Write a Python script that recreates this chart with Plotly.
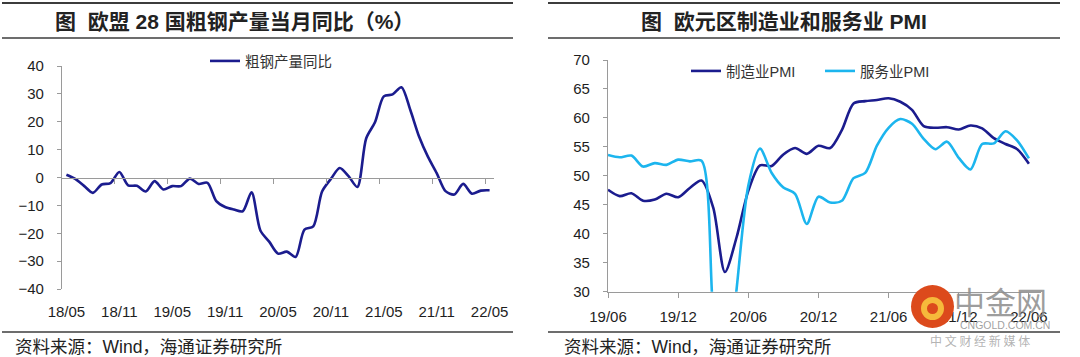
import plotly.graph_objects as go

# ---------------- data ----------------
steel_ticks = ["18/05", "18/11", "19/05", "19/11", "20/05", "20/11", "21/05", "21/11", "22/05"]
steel_yoy = [1.0, -0.5, -3.0, -5.5, -2.5, -2.0, 2.0, -2.8, -3.0, -5.0, -1.3, -4.3,
             -3.1, -3.1, -0.4, -2.3, -1.9, -8.5, -10.6, -11.5, -12.1, -5.3, -19.0, -23.0,
             -27.3, -26.6, -28.5, -18.7, -17.5, -5.0, -0.5, 3.4, 0.5, -3.4, 14.0, 19.8,
             29.1, 29.8, 32.4, 24.3, 14.7, 7.5, 1.6, -4.9, -6.1, -2.3, -5.8, -4.7, -4.6]

pmi_ticks = ["19/06", "19/12", "20/06", "20/12", "21/06", "21/12", "22/06"]
mfg_pmi = [47.6, 46.5, 47.0, 45.7, 45.9, 46.9, 46.3,
           47.9, 49.2, 44.5, 33.4, 39.4, 47.4, 51.8, 51.7, 53.7, 54.8, 53.8, 55.2,
           54.8, 57.9, 62.5, 62.9, 63.1, 63.4, 62.8, 61.4, 58.6, 58.3, 58.4, 58.0,
           58.7, 58.2, 56.5, 55.5, 54.6, 52.1]
svc_pmi = [53.6, 53.2, 53.5, 51.6, 52.2, 51.9, 52.8,
           52.5, 52.6, 26.4, 12.0, 30.5, 48.3, 54.7, 50.5, 48.0, 46.9, 41.7, 46.4,
           45.4, 45.7, 49.6, 50.5, 55.2, 58.3, 59.8, 59.0, 56.4, 54.6, 55.9, 53.1,
           51.1, 55.5, 55.6, 57.7, 56.1, 53.0]

steel_x = list(range(len(steel_yoy)))
pmi_x = list(range(len(mfg_pmi)))

NAVY = "#1B1C8E"
SKY = "#1CB5EE"
AXIS = "#9A9A9A"
TXT = "#1E1E1E"
NUMFONT = "Liberation Sans, Arial, Noto Sans CJK SC"
CJK = "Liberation Sans, Noto Sans CJK SC"

W, H = 1080, 357
px = lambda v: v / W
py = lambda v: 1 - v / H

fig = go.Figure()

fig.add_trace(go.Scatter(x=steel_x, y=steel_yoy, name="粗钢产量同比", mode="lines",
                         line=dict(color=NAVY, width=2.6, shape="spline", smoothing=0.8),
                         xaxis="x", yaxis="y", legend="legend"))
# helper (invisible) trace so the zero-crossing tick axis is drawn
fig.add_trace(go.Scatter(x=[0], y=[0], mode="markers", marker=dict(opacity=0),
                         showlegend=False, hoverinfo="skip", xaxis="x2", yaxis="y"))

fig.add_trace(go.Scatter(x=pmi_x, y=mfg_pmi, name="制造业PMI", mode="lines",
                         line=dict(color=NAVY, width=2.6, shape="spline", smoothing=0.8),
                         xaxis="x3", yaxis="y3", legend="legend2"))
fig.add_trace(go.Scatter(x=pmi_x, y=svc_pmi, name="服务业PMI", mode="lines",
                         line=dict(color=SKY, width=2.6, shape="spline", smoothing=0.8),
                         xaxis="x3", yaxis="y3", legend="legend3"))

ydom_l = [py(289), py(66)]
ydom_r = [py(291.7), py(60)]
zero_pos = ydom_l[0] + 0.5 * (ydom_l[1] - ydom_l[0])

tickfont = dict(family=NUMFONT, size=15, color=TXT)

fig.update_layout(
    template="none",
    width=W, height=H,
    margin=dict(l=0, r=0, t=0, b=0, pad=0, autoexpand=False),
    paper_bgcolor="white", plot_bgcolor="white",
    xaxis=dict(domain=[px(62), px(494)], anchor="y", range=[-0.5, 48.5],
               tickmode="array", tickvals=list(range(0, 49, 6)), ticktext=steel_ticks,
               showline=False, showgrid=False, zeroline=False, ticks="",
               tickfont=tickfont, ticklabelstandoff=12, automargin=False),
    xaxis2=dict(domain=[px(62), px(494)], overlaying="x", anchor="free", position=zero_pos,
                range=[-0.5, 48.5], tickmode="array",
                tickvals=[5.5 + 6 * k for k in range(8)],
                showticklabels=False, showline=True, linecolor=AXIS, linewidth=1.3,
                ticks="outside", ticklen=5, tickcolor=AXIS, tickwidth=1.2,
                showgrid=False, zeroline=False, side="bottom", automargin=False),
    yaxis=dict(domain=ydom_l, anchor="x", range=[-40, 40], tickmode="array",
               tickvals=list(range(-40, 41, 10)), showline=True, linecolor=AXIS,
               linewidth=1.3, ticks="outside", ticklen=4, tickcolor=AXIS,
               showgrid=False, zeroline=False, tickfont=tickfont, ticklabelstandoff=10,
               automargin=False),
    xaxis3=dict(domain=[px(608), px(1040.6)], anchor="y3", range=[0, 37],
                tickmode="array", tickvals=list(range(0, 37, 6)), ticktext=pmi_ticks,
                showline=True, linecolor=AXIS, linewidth=1.3, ticks="outside",
                ticklen=5, tickcolor=AXIS, showgrid=False, zeroline=False,
                tickfont=tickfont, ticklabelstandoff=6, automargin=False),
    yaxis3=dict(domain=ydom_r, anchor="x3", range=[30, 70], tickmode="array",
                tickvals=list(range(30, 71, 5)), showline=True, linecolor=AXIS,
                linewidth=1.3, ticks="outside", ticklen=4, tickcolor=AXIS,
                showgrid=False, zeroline=False, tickfont=tickfont, ticklabelstandoff=10,
                automargin=False),
    legend=dict(x=px(205), y=py(61), xanchor="left", yanchor="middle",
                bgcolor="rgba(0,0,0,0)", borderwidth=0,
                font=dict(family=CJK, size=14.5, color="#333333")),
    legend2=dict(x=px(686), y=py(71), xanchor="left", yanchor="middle",
                 bgcolor="rgba(0,0,0,0)", borderwidth=0,
                 font=dict(family=CJK, size=14.5, color="#333333")),
    legend3=dict(x=px(820), y=py(71), xanchor="left", yanchor="middle",
                 bgcolor="rgba(0,0,0,0)", borderwidth=0,
                 font=dict(family=CJK, size=14.5, color="#333333")),
    showlegend=True,
)

# rules
shapes = []
for x0, x1 in [(2, 513), (548, 1060)]:
    shapes.append(dict(type="line", xref="paper", yref="paper", x0=px(x0), x1=px(x1),
                       y0=py(3), y1=py(3), line=dict(color="#3C3C3C", width=2)))
    shapes.append(dict(type="line", xref="paper", yref="paper", x0=px(x0), x1=px(x1),
                       y0=py(38), y1=py(38), line=dict(color="#3C3C3C", width=1.3)))
    shapes.append(dict(type="line", xref="paper", yref="paper", x0=px(x0), x1=px(x1),
                       y0=py(332), y1=py(332), line=dict(color="#3C3C3C", width=1.3)))
# watermark logo
shapes.append(dict(type="circle", xref="paper", yref="paper", x0=px(911), x1=px(954),
                   y0=py(328), y1=py(285), fillcolor="#DC4A1C", line=dict(width=0),
                   layer="above"))
shapes.append(dict(type="circle", xref="paper", yref="paper", x0=px(921), x1=px(944),
                   y0=py(320), y1=py(297), fillcolor="#F6B93B", line=dict(width=0),
                   layer="above"))
shapes.append(dict(type="circle", xref="paper", yref="paper", x0=px(927), x1=px(938),
                   y0=py(314), y1=py(303), fillcolor="#DC4A1C", line=dict(width=0),
                   layer="above"))
fig.update_layout(shapes=shapes)

ann = []
ann.append(dict(text="<b>图  欧盟 28 国粗钢产量当月同比（%）</b>", x=px(234), y=py(21),
                xref="paper", yref="paper", showarrow=False, xanchor="center", yanchor="middle",
                font=dict(family=CJK, size=21, color="#222222")))
ann.append(dict(text="<b>图  欧元区制造业和服务业 PMI</b>", x=px(784), y=py(21),
                xref="paper", yref="paper", showarrow=False, xanchor="center", yanchor="middle",
                font=dict(family=CJK, size=21, color="#222222")))
for x0 in (13, 562):
    ann.append(dict(text="资料来源：Wind，海通证券研究所", x=px(x0), y=py(347),
                    xref="paper", yref="paper", showarrow=False, xanchor="left",
                    yanchor="middle", font=dict(family=CJK, size=17.5, color="#222222")))
ann.append(dict(text="中金网", x=px(1000), y=py(300), xref="paper", yref="paper",
                showarrow=False, xanchor="center", yanchor="middle",
                font=dict(family="Noto Sans CJK SC", size=31, color="rgba(140,140,140,0.85)")))
ann.append(dict(text="CNGOLD.COM.CN", x=px(1005), y=py(325), xref="paper", yref="paper",
                showarrow=False, xanchor="center", yanchor="middle",
                font=dict(family="Liberation Sans", size=10.5, color="rgba(150,150,150,0.9)")))
ann.append(dict(text="中 文 财 经 新 媒 体", x=px(980), y=py(340), xref="paper", yref="paper",
                showarrow=False, xanchor="center", yanchor="middle",
                font=dict(family="Noto Sans CJK SC", size=12, color="rgba(160,160,160,0.8)")))
fig.update_layout(annotations=ann)

fig.write_html("out.html", config={"displayModeBar": False},
               post_script="document.body.style.margin='0';document.body.style.overflow='hidden';")
